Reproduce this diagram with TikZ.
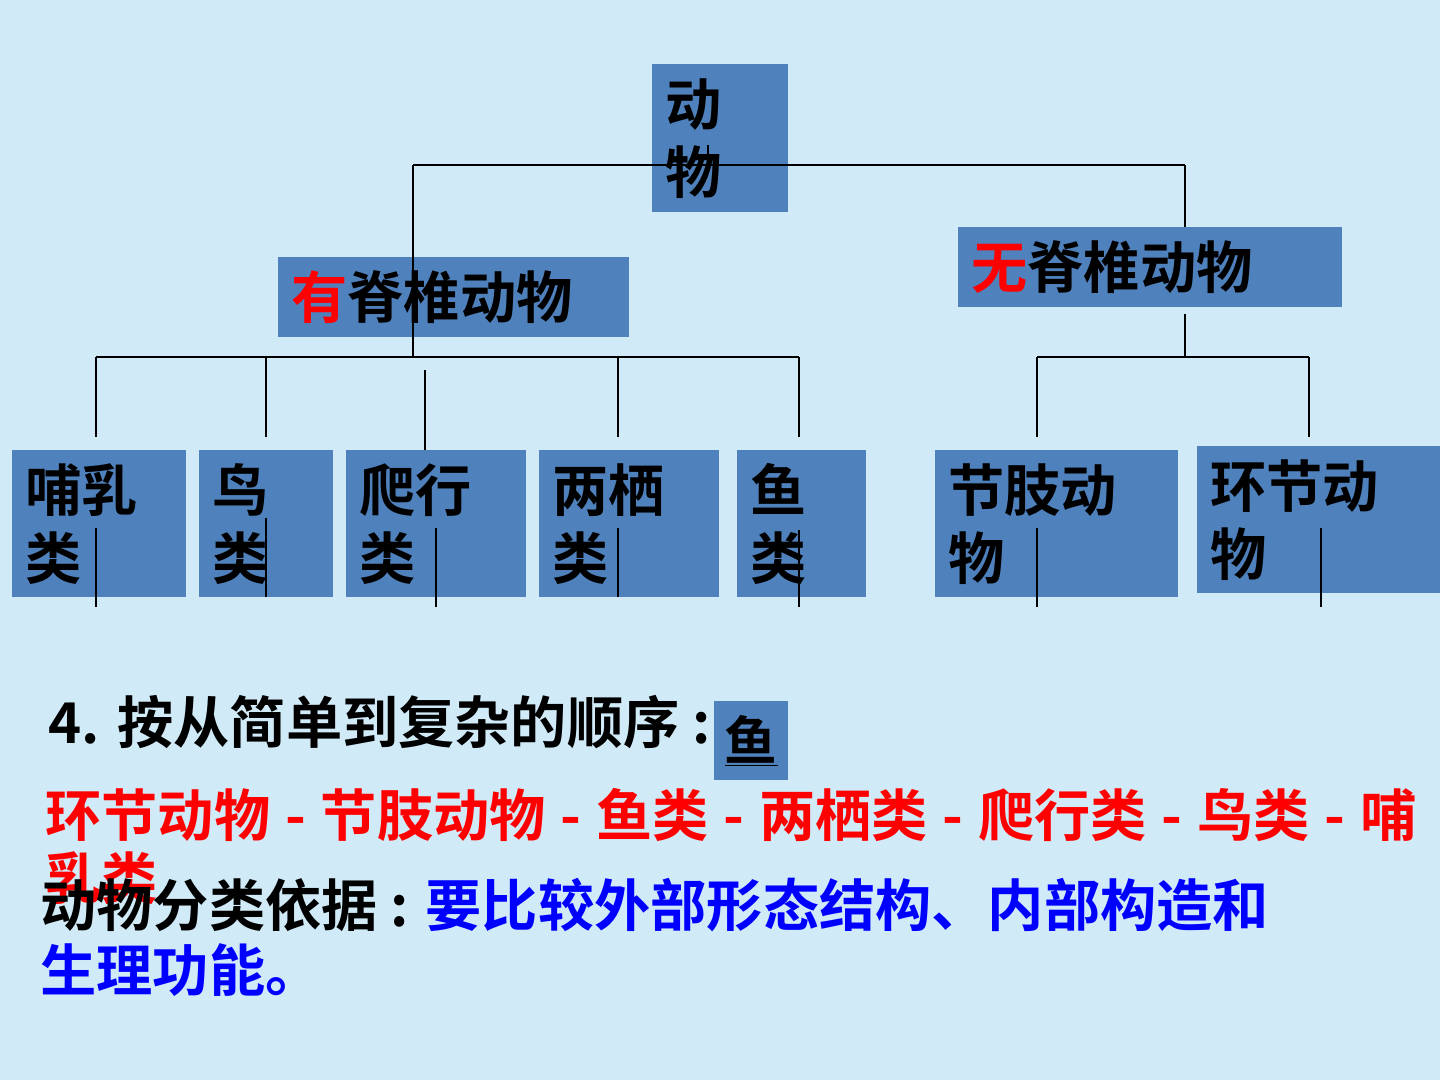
\documentclass[tikz,border=0pt]{standalone}
\usepackage{fontspec}
\setmainfont{Noto Sans CJK SC}[BoldFont={Noto Sans CJK SC Bold}]
\usepackage{tikz}
\usetikzlibrary{positioning, calc}

\definecolor{slidebg}{RGB}{208,234,247}
\definecolor{boxblue}{RGB}{79,129,189}

\newcommand{\seqsep}{\kern1.2pt{} - \kern1.2pt{}}

\tikzset{
    box/.style = {fill = boxblue, anchor = north west, inner xsep = 0.26cm, inner ysep = 0pt,
                  align = left, font = \bfseries\fontsize{32}{38.5}\selectfont},
    tree/.style = {draw = black, line width = 1pt},
    slidetext/.style = {anchor = west, inner sep = 0pt, font = \bfseries\fontsize{32}{38.5}\selectfont}
}

\begin{document}
\begin{tikzpicture}[x = 0.02cm, y = -0.02cm]
    \fill[slidebg] (0,0) rectangle (1440,1080);
    \useasboundingbox (0,0) rectangle (1440,1080);

    %% the tree boxes
    \node [box, text width = 2.2cm, minimum height = 2.96cm] (animal) at (652,64) {动\\物};
    \node [box, text width = 6.5cm, minimum height = 1.6cm] (vert) at (278,257) {\textcolor{red}{有}脊椎动物};
    \node [box, text width = 7.16cm, minimum height = 1.6cm] (invert) at (958,227) {\textcolor{red}{无}脊椎动物};

    \foreach \nm/\x/\tw/\txt in {mammal/12/2.96/{哺乳\\类}, bird/199/2.16/{鸟\\类},
        reptile/346/3.08/{爬行\\类}, amphib/539/3.08/{两栖\\类}, fish/737/2.06/{鱼\\类},
        arthro/935/4.34/{节肢动\\物}}
    {
        \node [box, text width = \tw cm, minimum height = 2.94cm] (\nm) at (\x,450) {\txt};
    }
    \node [box, text width = 4.34cm, minimum height = 2.94cm] (annelid) at (1197,446) {环节动\\物};

    %% connectors
    \coordinate (jl) at (413,165);
    \coordinate (jr) at (1185,165);
    \coordinate (barl) at (413,357);
    \coordinate (barr) at (1185,357);

    \draw[tree] (jl) -- (jr);
    \draw[tree] (jl) -- (barl);
    \draw[tree] (jr) -- (jr |- invert.north);
    \draw[tree] ($(invert.south -| jr) + (0,6)$) -- (barr);
    \draw[tree] (96,0 |- barl) -- (799,0 |- barl);
    \draw[tree] (1037,0 |- barr) -- (1309,0 |- barr);

    \foreach \x in {96, 266, 618, 799}
        \draw[tree] (\x,0 |- barl) -- (\x,437);
    \foreach \x in {1037, 1309}
        \draw[tree] (\x,0 |- barr) -- (\x,437);
    \draw[tree] (425,370) -- (425,0 |- reptile.north);

    %% stray marks inside the boxes
    \draw[tree] (708,145) -- (708,157);
    \foreach \x/\a/\b in {96/528/607, 266/518/597, 436/528/607, 618/528/597, 799/530/607, 1037/528/607, 1321/528/607}
        \draw[tree] (\x,\a) -- (\x,\b);

    %% text below the tree
    \node [slidetext] (order) at (48,722) {4.\kern10pt 按从简单到复杂的顺序 :};
    \node [fill = boxblue, anchor = north west, minimum width = 1.48cm, minimum height = 1.58cm,
           inner sep = 0pt, font = \bfseries\fontsize{30}{36}\selectfont] (firstfish) at (714,701) {\underline{鱼}};
    \node [slidetext, text = red] (seq) at (45,815)
        {环节动物\seqsep 节肢动物\seqsep 鱼类\seqsep 两栖类\seqsep 爬行类\seqsep 鸟类\seqsep 哺};
    \node [slidetext, text = red] (seqend) at (45,878) {乳类};
    \node [slidetext] (basis) at (40,905) {动物分类依据 : \textcolor{blue}{要比较外部形态结构、内部构造和}};
    \node [slidetext, text = blue] (basisend) at (40,970) {生理功能。};

\end{tikzpicture}
\end{document}
